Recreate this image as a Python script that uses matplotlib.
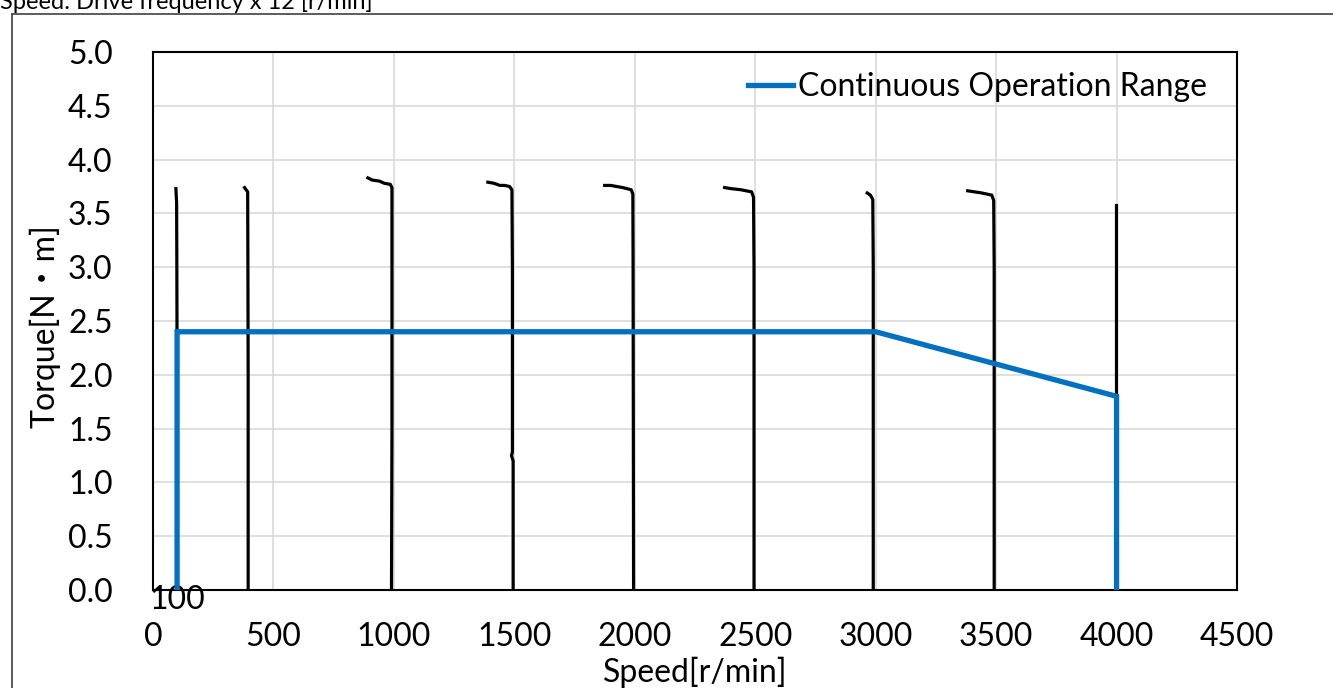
import matplotlib
matplotlib.use('Agg')
from matplotlib import pyplot as plt
from matplotlib.lines import Line2D

plt.rcParams['font.family'] = ['Lato', 'Noto Sans CJK JP', 'DejaVu Sans']

# measured torque curves (speed r/min, torque N*m), bottom to top
curves = [
    ([100, 100, 99, 98, 95], [0, 2.0, 3.0, 3.6, 3.73]),
    ([395, 395, 394, 393, 380], [0, 2.0, 3.0, 3.70, 3.74]),
    ([990, 992, 992, 985, 960, 940, 910, 892], [0, 1.5, 3.74, 3.77, 3.78, 3.80, 3.81, 3.83]),
    ([1495, 1495, 1488, 1492, 1492, 1490, 1480, 1460, 1440, 1415, 1390],
     [0, 1.20, 1.25, 1.28, 3.0, 3.72, 3.75, 3.76, 3.76, 3.78, 3.79]),
    ([1995, 1993, 1992, 1985, 1950, 1900, 1875], [0, 3.0, 3.68, 3.72, 3.74, 3.76, 3.76]),
    ([2495, 2495, 2493, 2485, 2440, 2400, 2373], [0, 3.0, 3.65, 3.70, 3.72, 3.73, 3.74]),
    ([2990, 2990, 2988, 2978, 2965], [0, 3.0, 3.63, 3.67, 3.69]),
    ([3492, 3492, 3490, 3482, 3440, 3382], [0, 3.0, 3.62, 3.67, 3.69, 3.71]),
    ([3998, 3998], [0, 3.58]),
]

# continuous operation range
range_speed = [100, 100, 3000, 3500, 4000, 4000]
range_torque = [0, 2.4, 2.4, 2.1, 1.8, 0]

fs = 23

fig = plt.figure(figsize=(13.33, 6.88), dpi=100)
ax = fig.add_axes([153/1333, 1-590/688, (1237-153)/1333, (590-52)/688])

for s, t in curves:
    ax.plot(s, t, color='black', lw=2.3, zorder=3)
ax.plot(range_speed, range_torque, color='#0070C0', lw=3.8, zorder=4,
        label='Continuous Operation Range', solid_joinstyle='miter')

ax.set_xlim(0, 4500)
ax.set_ylim(0, 5.0)
ax.set_xticks(range(0, 4501, 500))
ax.set_yticks([i * 0.5 for i in range(11)])
ax.set_yticklabels(['%.1f' % (i * 0.5) for i in range(11)])
ax.grid(True, color='#d9d9d9', lw=1.2)
ax.set_axisbelow(True)
ax.tick_params(length=0, labelsize=fs)
ax.tick_params(axis='x', pad=23)
ax.tick_params(axis='y', pad=29)
for sp in ax.spines.values():
    sp.set_linewidth(1.5)
    sp.set_color('black')

ax.set_xlabel('Speed[r/min]', fontsize=fs)
ax.set_ylabel('Torque[N・m]', fontsize=fs)
ax.xaxis.set_label_coords(0.5, -0.124)
ax.yaxis.set_label_coords(-0.085, 0.49)

ax.annotate('100', xy=(100, 0), xytext=(0, -7), textcoords='offset points',
            ha='center', va='center', fontsize=fs, annotation_clip=False)

ax.legend(loc='upper right', frameon=False, fontsize=fs, handlelength=1.4,
          handletextpad=0.15, borderpad=0, borderaxespad=0,
          bbox_to_anchor=(0.972, 0.962))

fig.text(0.0, 1 - 9/688, 'Speed: Drive frequency x 12 [r/min]', fontsize=17,
         va='baseline', ha='left')
fig.add_artist(Line2D([12/1333, 12/1333], [0, 1 - 14/688], transform=fig.transFigure,
                      color='#404040', lw=1.2))
fig.add_artist(Line2D([12/1333, 1], [1 - 14/688, 1 - 14/688], transform=fig.transFigure,
                      color='#404040', lw=1.2))

fig.savefig('out.png', dpi=100)
